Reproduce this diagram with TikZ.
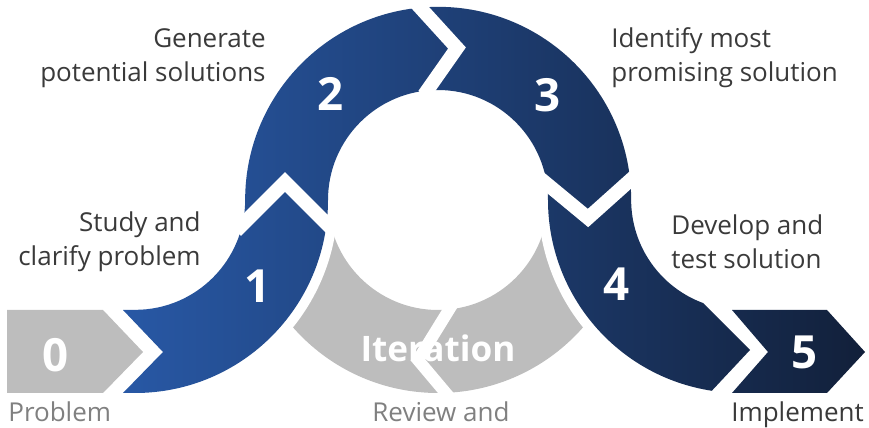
\documentclass[tikz,border=0pt]{standalone}
\usepackage{fontspec}
\setmainfont{Open Sans}
\definecolor{bandlight}{RGB}{40,88,165}
\definecolor{banddark}{RGB}{18,32,58}
\definecolor{loopgrey}{RGB}{189,189,189}
\definecolor{textdark}{RGB}{58,58,58}
\definecolor{textgrey}{RGB}{128,128,128}
\tikzset{
    cycle diagram/.style = {x=0.02cm, y=0.02cm},
    band/.style          = {left color=bandlight, right color=banddark,
                            preaction={draw=white, line width=11.3pt,
                                       line join=round}},
    loop/.style          = {fill=loopgrey},
    cut/.style           = {draw=white, line width=7.9pt},
    num/.style           = {text=white, inner sep=0pt,
                            font=\fontsize{26pt}{26pt}\selectfont\bfseries},
    iter/.style          = {num, font=\fontsize{20pt}{20pt}\selectfont\bfseries},
    lbl/.style           = {text=textdark, inner sep=0pt,
                            font=\fontsize{14.8pt}{19.5pt}\selectfont},
    glbl/.style          = {lbl, text=textgrey}
}
\begin{document}
\begin{tikzpicture}[cycle diagram]
\useasboundingbox (0,0) rectangle (869,-428);
\clip (0,0) rectangle (869,-428);

% ================= Iteration loop =================
\path[loop] (245,-200) arc[start angle=180, end angle=360, radius=193]
    -- (548,-200) arc[start angle=0, end angle=-180, radius=110] -- cycle;

% ================= Steps 1 to 5 =================
\path[band] (123,-310) -- (163,-352) -- (123,-393) -- (135,-393)
    arc[start angle=270, end angle=360, radius=193]
    arc[start angle=180, end angle=0, radius=110]
    arc[start angle=180, end angle=261.3, radius=193]
    -- (750,-350) -- (703,-303)
    arc[start angle=249.7, end angle=180, radius=110]
    arc[start angle=0, end angle=180, radius=193]
    arc[start angle=0, end angle=-90, radius=110] -- cycle
    (732,-310) -- (827,-310) -- (865,-352) -- (827,-393) -- (732,-393)
    -- (768,-352) -- cycle;

% ================= Step 0 =================
\path[loop] (7,-310) -- (103,-310) -- (143,-352) -- (103,-393)
    -- (7,-393) -- cycle;

% ================= Chevron cuts =================
\draw[cut] (236,-231) -- (285,-182) -- (334,-231);
\draw[cut] (416,-3) -- (457,-48) -- (424,-95);
\draw[cut] (530,-170) -- (588,-218) -- (636,-175);
\draw[cut, line width=6.8pt] (455,-300) -- (418,-360) -- (450,-398);

% ================= Numbers =================
\node[num] (s0) at (56,-355) {0};
\node[num] (s1) at (258,-286) {1};
\node[num] (s2) at (331,-94) {2};
\node[num] (s3) at (548,-95) {3};
\node[num] (s4) at (617,-284) {4};
\node[num] (s5) at (805,-352) {5};
\node[iter] (iteration) at (438,-348) {Iteration};

% ================= Labels =================
\node[lbl, anchor=east, align=right] (generate) at (266,-58)
    {Generate\\potential solutions};
\node[lbl, anchor=west, align=left] (identify) at (611,-58)
    {Identify most\\promising solution};
\node[lbl, anchor=east, align=right] (study) at (201,-242)
    {Study and\\clarify problem};
\node[lbl, anchor=west, align=left] (develop) at (671,-242)
    {Develop and\\test solution};
\node[glbl, anchor=base west] (problem) at (8,-422) {Problem};
\node[glbl, anchor=base] (review) at (441,-422) {Review and};
\node[lbl, anchor=base west] (implement) at (731,-422) {Implement};

\end{tikzpicture}
\end{document}
